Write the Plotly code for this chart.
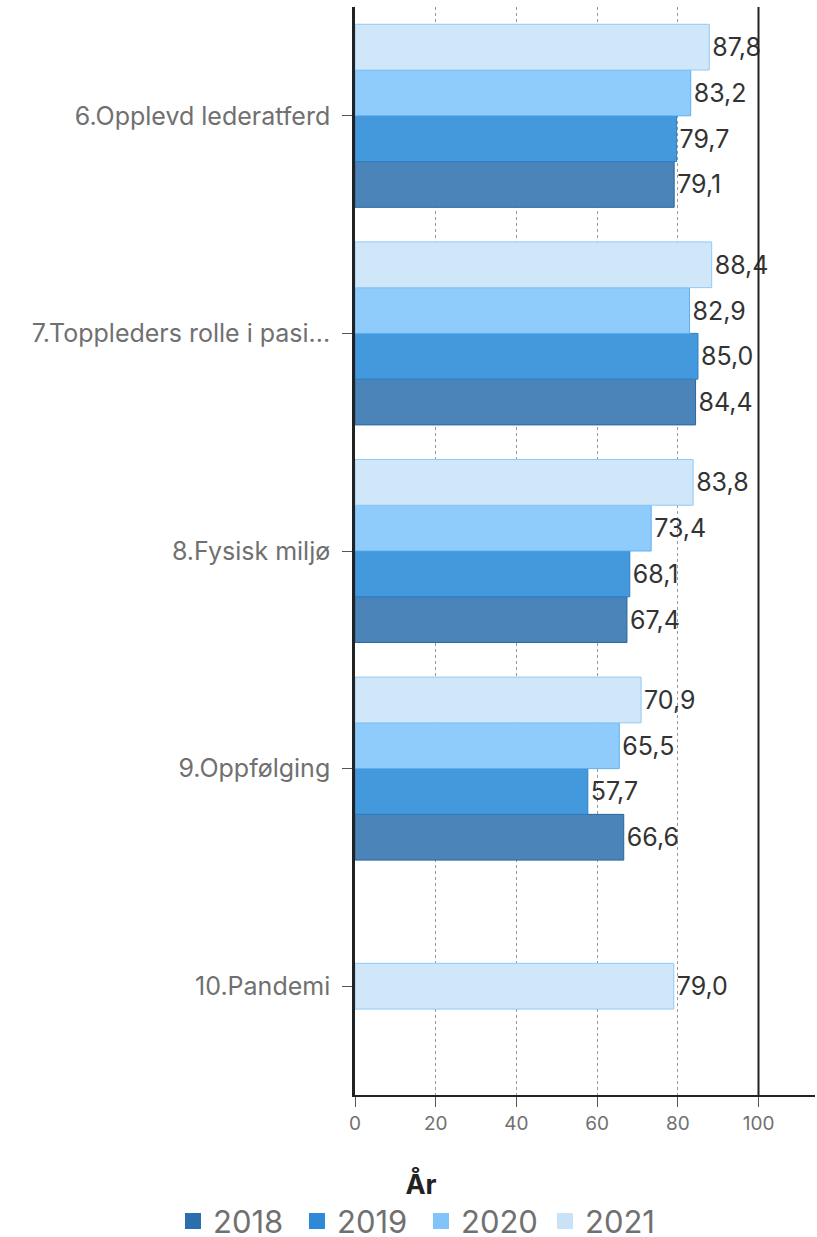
import plotly.graph_objects as go

categories = ["6.Opplevd lederatferd", "7.Toppleders rolle i pasi...", "8.Fysisk miljø",
              "9.Oppfølging", "10.Pandemi"]
years = ["2018", "2019", "2020", "2021"]
v2018 = [79.1, 84.4, 67.4, 66.6, None]
v2019 = [79.7, 85.0, 68.1, 57.7, None]
v2020 = [83.2, 82.9, 73.4, 65.5, None]
v2021 = [87.8, 88.4, 83.8, 70.9, 79.0]
x_ticks = [0, 20, 40, 60, 80, 100]

series = {"2018": v2018, "2019": v2019, "2020": v2020, "2021": v2021}
fill = {"2018": "#4a84b9", "2019": "#4498dc", "2020": "#8fcbfb", "2021": "#d0e6f9"}
line = {"2018": "#28679f", "2019": "#2d7fc6", "2020": "#5eb0f2", "2021": "#92c9f4"}
legend_col = {"2018": "#2a6ead", "2019": "#2e8ad8", "2020": "#80c4fb", "2021": "#c8e2f8"}

W = 0.2103
slot = {"2021": -2 * W, "2020": -W, "2019": 0.0, "2018": W}

FONT = "Inter"
fig = go.Figure()
for yr in years:
    vals = series[yr]
    n_present = [sum(1 for s in years if series[s][i] is not None) for i in range(len(categories))]
    offs = [slot[yr] if n_present[i] > 1 else -W / 2 for i in range(len(categories))]
    fig.add_trace(go.Bar(
        y=categories, x=vals, orientation="h", name=yr, showlegend=False,
        offset=offs, width=W,
        marker=dict(color=fill[yr], line=dict(color=line[yr], width=1)),
        texttemplate="%{x:.1f}", textposition="outside", cliponaxis=False,
        textfont=dict(family=FONT, size=25, color="#333333"),
    ))

for yr in years:
    fig.add_trace(go.Scatter(
        x=[None], y=[None], mode="markers", name=yr,
        marker=dict(symbol="square", size=16, color=legend_col[yr]),
    ))

fig.add_shape(type="line", xref="x", yref="paper", x0=x_ticks[-1], x1=x_ticks[-1],
              y0=0, y1=1, line=dict(color="#222222", width=2), layer="above")

fig.update_layout(
    width=817, height=1237,
    margin=dict(l=355, r=2, t=7, b=142, autoexpand=False),
    barmode="overlay",
    separators=", ",
    plot_bgcolor="white", paper_bgcolor="white",
    font=dict(family=FONT, color="#707070"),
    xaxis=dict(range=[0, 114], tickvals=x_ticks, showgrid=True, gridcolor="#9a9a9a",
               griddash="dot", gridwidth=1, zeroline=False, showline=True,
               linecolor="#222222", linewidth=2, ticks="outside", ticklen=10,
               tickcolor="#555555", tickfont=dict(size=19, color="#707070"),
               layer="above traces", automargin=False),
    yaxis=dict(categoryorder="array", categoryarray=categories, range=[4.5, -0.5],
               showline=True, linecolor="#222222", linewidth=2.5, ticks="outside",
               ticklen=10, tickcolor="#555555", showgrid=False, automargin=False,
               tickfont=dict(size=25, color="#707070"), ticksuffix=" "),
    legend=dict(orientation="h", x=-0.3957, xanchor="left",
                y=-0.059, yanchor="top", entrywidth=79,
                font=dict(size=31, color="#707070"),
                title=dict(text="<b>År</b>", side="top center",
                           font=dict(size=27, color="#222222")),
                itemsizing="trace"),
)
fig.write_html("out.html", config={"displayModeBar": False},
               post_script="document.body.style.margin='0';document.body.style.overflow='hidden';")
